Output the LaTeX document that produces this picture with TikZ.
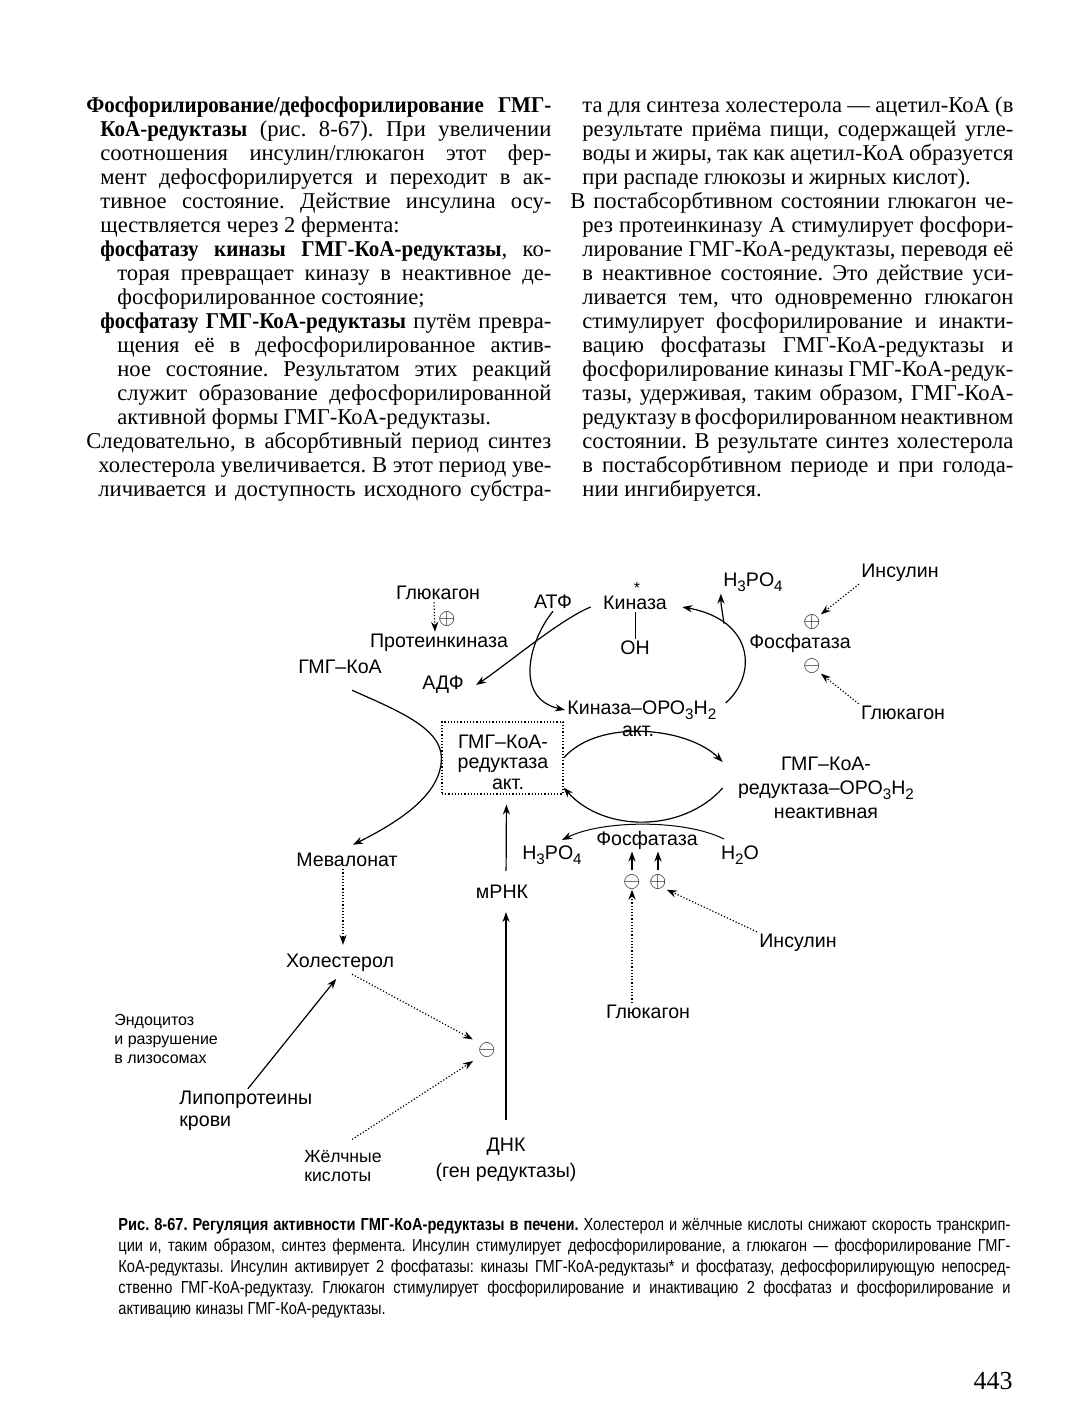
\documentclass[tikz,border=0pt]{standalone}
\usepackage{fontspec}
\setmainfont{Liberation Serif}
\newfontfamily\hdfont[FakeStretch=0.93]{Liberation Serif}
\newfontfamily\diagfont{Liberation Sans}
\newfontfamily\capfont[FakeStretch=0.84]{Liberation Sans}
\usetikzlibrary{arrows.meta}
\frenchspacing
\newcommand{\lowsub}[1]{\raisebox{-0.45ex}{\fontsize{7.6}{8}\selectfont #1}}
\newcommand{\loosespace}{\spaceskip=0.25em plus 0.6em minus 0.12em\relax}

\tikzset{
  bodytxt/.style={font=\fontsize{11.3}{12}\selectfont, inner sep=0pt, anchor=mid west},
  captxt/.style={font=\capfont\fontsize{8.7}{10}\selectfont, inner sep=0pt, anchor=mid west},
  lbl/.style={font=\diagfont\fontsize{9.8}{12}\selectfont, inner sep=1pt},
  smalllbl/.style={font=\diagfont\fontsize{8}{9.3}\selectfont, inner sep=0pt, align=left},
  sgn/.style={inner sep=0pt, font=\fontsize{10.5}{11}\selectfont},
  redbox/.style={draw, densely dotted, line width=0.6pt, minimum width=60.5pt, minimum height=36pt},
  arr/.style={line width=0.6pt, -{Stealth[length=5pt,width=3.6pt]}},
  darr/.style={arr, densely dotted},
}

\begin{document}
\begin{tikzpicture}[x=0.5pt, y=-0.5pt]
\useasboundingbox (0,0) rectangle (1076,1417);

% left column of the page
\foreach \n/\x/\j/\txt in {
  1/86/s/{\hdfont\bfseries Фосфорилирование/дефосфорилирование ГМГ-},
  2/100/s/{{\hdfont\bfseries КоА-редуктазы} (рис. 8-67). При увеличении},
  3/100/s/{соотношения инсулин/глюкагон этот фер-},
  4/100/s/{мент дефосфорилируется и переходит в ак-},
  5/100/s/{тивное состояние. Действие инсулина осу-},
  6/100/l/{ществляется через 2 фермента:},
  7/100/s/{{\hdfont\bfseries фосфатазу киназы ГМГ-КоА-редуктазы}, ко-},
  8/117/s/{торая превращает киназу в неактивное де-},
  9/117/l/{фосфорилированное состояние;},
  10/100/s/{{\hdfont\bfseries фосфатазу ГМГ-КоА-редуктазы} путём превра-},
  11/117/s/{щения её в дефосфорилированное актив-},
  12/117/s/{ное состояние. Результатом этих реакций},
  13/117/s/{служит образование дефосфорилированной},
  14/117/l/{активной формы ГМГ-КоА-редуктазы.},
  15/86/s/{Следовательно, в абсорбтивный период синтез},
  16/98/s/{холестерола увеличивается. В этот период уве-},
  17/98/s/{личивается и доступность исходного субстра-}} {
  \pgfmathsetmacro\colw{(551-\x)/2}
  \node[bodytxt] (L\n) at (\x, 84+24*\n) {\loosespace\makebox[\colw pt][\j]{\txt}};
}

% right column of the page
\foreach \n/\x/\j/\txt in {
  1/582/s/{та для синтеза холестерола — ацетил-КоА (в},
  2/582/s/{результате приёма пищи, содержащей угле-},
  3/582/s/{воды и жиры, так как ацетил-КоА образуется},
  4/582/l/{при распаде глюкозы и жирных кислот).},
  5/570/s/{В постабсорбтивном состоянии глюкагон че-},
  6/582/s/{рез протеинкиназу А стимулирует фосфори-},
  7/582/s/{лирование ГМГ-КоА-редуктазы, переводя её},
  8/582/s/{в неактивное состояние. Это действие уси-},
  9/582/s/{ливается тем, что одновременно глюкагон},
  10/582/s/{стимулирует фосфорилирование и инакти-},
  11/582/s/{вацию фосфатазы ГМГ-КоА-редуктазы и},
  12/582/s/{фосфорилирование киназы ГМГ-КоА-редук-},
  13/582/s/{тазы, удерживая, таким образом, ГМГ-КоА-},
  14/582/s/{редуктазу в фосфорилированном неактивном},
  15/582/s/{состоянии. В результате синтез холестерола},
  16/582/s/{в постабсорбтивном периоде и при голода-},
  17/582/l/{нии ингибируется.}} {
  \pgfmathsetmacro\colw{(1013-\x)/2}
  \node[bodytxt] (R\n) at (\x, 84+24*\n) {\loosespace\makebox[\colw pt][\j]{\txt}};
}

% diagram: kinase cycle
\node[lbl] (glu1) at (438,593) {Глюкагон};
\node[sgn] (pl1) at (447,619) {$\oplus$};
\node[lbl] (pk) at (439,643) {Протеинкиназа};
\node[lbl] (hmgcoa) at (340,667) {ГМГ–КоА};
\node[lbl] (adp) at (443,685) {АДФ};
\node[lbl] (atp) at (553,602) {АТФ};
\node[lbl] (kin) at (635,603) {Киназа};
\node[lbl, font=\diagfont\fontsize{8}{8}\selectfont, inner sep=0pt] (kstar) at (637,588) {*};
\node[lbl] (oh) at (635,648) {ОН};
\node[lbl, anchor=west] (kinp) at (565,710) {Киназа–ОРО\lowsub{3}Н\lowsub{2}};
\node[lbl] (kact) at (638,731) {акт.};
\node[lbl] (h3a) at (753,582) {H\lowsub{3}PO\lowsub{4}};
\node[lbl] (ins1) at (900,573) {Инсулин};
\node[sgn] (pl2) at (812,622) {$\oplus$};
\node[lbl] (phos1) at (800,643) {Фосфатаза};
\node[sgn] (mi2) at (812,666) {$\ominus$};
\node[lbl] (glu2) at (903,713) {Глюкагон};

% diagram: reductase
\node[redbox] (red) at (502.5,758) {};
\node[lbl, align=center, font=\diagfont\fontsize{9.8}{10.2}\selectfont] (redtxt) at (503,762) {ГМГ–КоА-\\редуктаза\\\hspace*{5pt}акт.};
\node[lbl, align=center] (redp) at (826,788) {ГМГ–КоА-\\редуктаза–ОРО\lowsub{3}Н\lowsub{2}\\неактивная};
\node[lbl] (meva) at (347,860) {Мевалонат};
\node[lbl] (mrnk) at (502,892) {мРНК};
\node[lbl] (phos2) at (647,840) {Фосфатаза};
\node[lbl] (h3b) at (552,855) {H\lowsub{3}PO\lowsub{4}};
\node[lbl] (h2o) at (740,855) {H\lowsub{2}O};
\node[sgn] (mi3) at (632,882) {$\ominus$};
\node[sgn] (pl3) at (658,882) {$\oplus$};
\node[lbl] (ins2) at (798,943) {Инсулин};
\node[lbl] (glu3) at (648,1012) {Глюкагон};

% diagram: cholesterol feedback
\node[lbl] (chol) at (340,963) {Холестерол};
\node[smalllbl, anchor=west] (endo) at (114,1039) {Эндоцитоз\\и разрушение\\в лизосомах};
\node[lbl, anchor=west] (lipo) at (177,1100) {Липопротеины};
\node[lbl, anchor=west] (krovi) at (177,1123) {крови};
\node[sgn] (mi4) at (487,1050) {$\ominus$};
\node[lbl, anchor=west, font=\diagfont\fontsize{8.8}{10}\selectfont] (bile) at (302,1157) {Жёлчные};
\node[lbl, anchor=west, font=\diagfont\fontsize{8.8}{10}\selectfont] (bile2) at (302,1177) {кислоты};
\node[lbl] (dnk) at (506,1147) {ДНК};
\node[lbl] (gene) at (506,1172) {(ген редуктазы)};

% connectors
\draw[darr] ([xshift=-2pt]glu1.south) -- ([xshift=-2pt]pk.north);
\draw[arr] (atp.south) .. controls +(-23,28) and +(-52,-12) .. (kinp.west);
\draw[arr] ([shift={(-5pt,-2pt)}]kin.west) .. controls +(-30,12) and +(30,-20) .. ([xshift=5pt]adp.east);
\draw (kin.south) -- (oh.north);
\draw[arr] ([shift={(3.5pt,3.5pt)}]kinp.east) .. controls +(32,-28) and +(72,13) .. ([shift={(6.5pt,-2pt)}]kin.east) coordinate[pos=0.75] (br1);
\draw[arr] (br1) .. controls +(-2,-15) and +(0,12) .. (h3a.south west);
\draw[darr] (ins1.south west) -- (pl2.north east);
\draw[darr] (glu2.north west) -- (mi2.south east);

\draw[arr] ([shift={(6pt,-7pt)}]hmgcoa.south) .. controls +(45,20) and +(0,-30) .. (red.west)
  .. controls +(0,35) and +(50,-25) .. ([shift={(3pt,3pt)}]meva.north);
\draw[arr] (red.east) .. controls +(35,-40) and +(-35,-35) .. ([shift={(-6.5pt,13pt)}]redp.west);
\draw[arr] ([xshift=-6.5pt]redp.west) .. controls +(-40,45) and +(40,45) .. ([yshift=3.5pt]red.south east);
\draw[arr, line width=0.5pt] ([shift={(-8pt,8pt)}]h2o.center) .. controls +(-40,-20) and +(40,-20) .. ([shift={(5pt,7.5pt)}]h3b.center);
\draw[arr, shorten <=2pt] (mi3.north) -- (mi3.north |- phos2.south);
\draw[arr, shorten <=2pt] (pl3.north) -- (pl3.north |- phos2.south);
\draw[darr] (mi3 |- glu3.north) -- (mi3.south);
\draw[darr] (ins2.north west) -- (pl3.south east);
\draw[arr, shorten <=6pt, shorten >=5pt] ([xshift=2pt]mrnk.north) -- ([xshift=2pt]red.south);

\draw[darr, shorten >=3.5pt] ([xshift=-2pt]meva.south) -- ([xshift=-2pt]meva.south |- chol.north);
\draw[arr, shorten >=3pt] ([xshift=1pt]lipo.north) -- (chol.south);
\draw[darr, shorten >=3pt] ([xshift=6pt]chol.south) -- (mi4.north west);
\draw[darr, shorten >=3pt] ([shift={(4.5pt,4.5pt)}]bile.north) -- (mi4.south west);
\draw[arr, shorten <=8pt, shorten >=5.5pt] (dnk.north) -- (dnk.north |- mrnk.south);

% caption
\foreach \n/\j/\txt in {
  1/s/{{\bfseries Рис. 8-67. Регуляция активности ГМГ-КоА-редуктазы в печени.} Холестерол и жёлчные кислоты снижают скорость транскрип-},
  2/s/{ции и, таким образом, синтез фермента. Инсулин стимулирует дефосфорилирование, а глюкагон — фосфорилирование ГМГ-},
  3/s/{КоА-редуктазы. Инсулин активирует 2 фосфатазы: киназы ГМГ-КоА-редуктазы* и фосфатазу, дефосфорилирующую непосред-},
  4/s/{ственно ГМГ-КоА-редуктазу. Глюкагон стимулирует фосфорилирование и инактивацию 2 фосфатаз и фосфорилирование и},
  5/l/{активацию киназы ГМГ-КоА-редуктазы.}} {
  \node[captxt] (C\n) at (118, 1205+21*\n) {\loosespace\makebox[446pt][\j]{\txt}};
}

\node[font=\fontsize{13}{14}\selectfont, inner sep=0pt] (pnum) at (993,1381) {443};
\end{tikzpicture}
\end{document}
